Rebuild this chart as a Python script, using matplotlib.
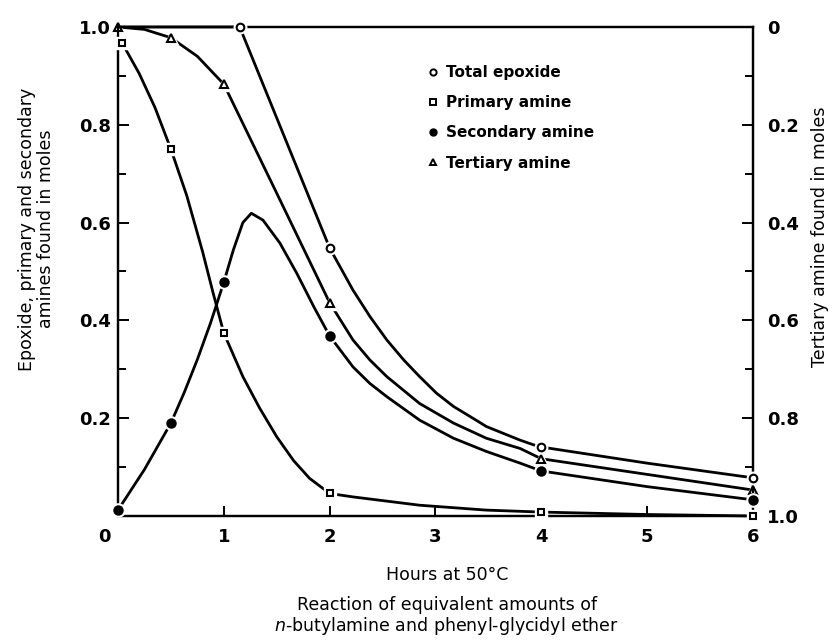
import matplotlib
matplotlib.use("Agg")
import matplotlib.pyplot as plt
import matplotlib.transforms as mtransforms
from matplotlib.lines import Line2D

# measured points (hours, moles)
epoxide_t = [1.15, 2, 4, 6]
epoxide_v = [1.0, 0.548, 0.141, 0.078]
primary_t = [0.04, 0.5, 1, 2, 4, 6]
primary_v = [0.967, 0.75, 0.374, 0.046, 0.008, 0.0]
secondary_t = [0, 0.5, 1, 2, 4, 6]
secondary_v = [0.012, 0.19, 0.478, 0.368, 0.092, 0.033]
# tertiary amine is read on the right (inverted) axis
tertiary_t = [0, 0.5, 1, 2, 4, 6]
tertiary_v = [0.0, 0.022, 0.117, 0.564, 0.883, 0.947]

# hand drawn curves
epoxide_curve_t = [0, 1.15, 2.0, 2.22, 2.38, 2.54, 2.70, 2.85, 3.01, 3.17, 3.33, 3.48, 3.64, 3.80, 3.96, 4.0, 5.0, 6.0]
epoxide_curve_v = [1.0, 1.0, 0.548, 0.462, 0.408, 0.360, 0.319, 0.285, 0.251, 0.224, 0.203, 0.183, 0.169, 0.155, 0.143, 0.141, 0.108, 0.078]
primary_curve_t = [0.04, 0.2, 0.35, 0.5, 0.65, 0.8, 0.9, 1.0, 1.18, 1.34, 1.5, 1.66, 1.81, 2.0, 2.22, 2.85, 3.48, 4.0, 5.0, 6.0]
primary_curve_v = [0.967, 0.905, 0.835, 0.75, 0.655, 0.54, 0.455, 0.374, 0.285, 0.22, 0.162, 0.113, 0.077, 0.046, 0.039, 0.022, 0.012, 0.008, 0.003, 0.0]
secondary_curve_t = [0, 0.25, 0.5, 0.625, 0.75, 0.875, 1.0, 1.09, 1.18, 1.26, 1.37, 1.53, 1.69, 1.85, 2.0, 2.22, 2.38, 2.54, 2.85, 3.17, 3.48, 3.80, 4.0, 5.0, 6.0]
secondary_curve_v = [0.012, 0.095, 0.19, 0.252, 0.32, 0.395, 0.478, 0.544, 0.6, 0.619, 0.605, 0.558, 0.496, 0.428, 0.368, 0.305, 0.271, 0.244, 0.196, 0.159, 0.132, 0.108, 0.092, 0.06, 0.033]
tertiary_curve_t = [0, 0.25, 0.5, 0.75, 1.0, 1.5, 2.0, 2.22, 2.38, 2.54, 2.85, 3.17, 3.48, 3.80, 4.0, 5.0, 6.0]
tertiary_curve_v = [0.0, 0.005, 0.022, 0.06, 0.117, 0.34, 0.564, 0.640, 0.681, 0.715, 0.770, 0.810, 0.841, 0.862, 0.883, 0.915, 0.947]

x_ticks = [0, 1, 2, 3, 4, 5, 6]
left_ticks = [0.2, 0.4, 0.6, 0.8, 1.0]
right_ticks = [0, 0.2, 0.4, 0.6, 0.8, 1.0]
minor_ticks = [0.1, 0.3, 0.5, 0.7, 0.9]

plt.rcParams["font.family"] = ["DejaVu Sans"]

fig = plt.figure(figsize=(8.35, 6.42), dpi=100)
ax = fig.add_axes([0.1413, 0.1963, 0.7605, 0.7617])
ax2 = ax.twinx()
# keep the left-axis markers on top of the tertiary ones
ax.set_zorder(ax2.get_zorder() + 1)
ax.patch.set_visible(False)

lw = 2.0


def draw(axis, ct, cv, t, v, marker, face, ms):
    axis.plot(ct, cv, color="black", lw=lw, zorder=2, clip_on=False, solid_capstyle="round")
    axis.plot(t, v, ls="none", marker=marker, ms=ms + 3.5, mfc="white", mec="white", zorder=3, clip_on=False)
    axis.plot(t, v, ls="none", marker=marker, ms=ms, mfc=face, mec="black", mew=1.5, zorder=4, clip_on=False)


draw(ax, epoxide_curve_t, epoxide_curve_v, epoxide_t, epoxide_v, "o", "white", 5.5)
draw(ax, primary_curve_t, primary_curve_v, primary_t, primary_v, "s", "white", 5)
draw(ax, secondary_curve_t, secondary_curve_v, secondary_t, secondary_v, "o", "black", 6)
draw(ax2, tertiary_curve_t, tertiary_curve_v, tertiary_t, tertiary_v, "^", "white", 6)

ax.set_xlim(0, 6)
ax.set_ylim(0, 1.0)
ax2.set_ylim(1.0, 0)

for a in (ax, ax2):
    for s in a.spines.values():
        s.set_linewidth(1.6)

ax.set_xticks(x_ticks)
ax.set_xticklabels([str(t) for t in x_ticks])
ax.set_yticks(left_ticks)
ax.set_yticklabels(["%.1f" % t for t in left_ticks])
ax.set_yticks(minor_ticks, minor=True)
ax2.set_yticks(right_ticks)
ax2.set_yticklabels(["0"] + ["%.1f" % t for t in right_ticks[1:]])
ax2.set_yticks([1 - m for m in minor_ticks], minor=True)

ax.tick_params(axis="x", direction="in", length=7, width=1.4, pad=9, labelsize=13, top=False)
ax.tick_params(axis="y", which="major", direction="in", length=8, width=1.4, pad=5, labelsize=13)
ax.tick_params(axis="y", which="minor", direction="in", length=6, width=1.4)
ax2.tick_params(axis="y", which="major", direction="in", length=8, width=1.4, pad=10, labelsize=13)
ax2.tick_params(axis="y", which="minor", direction="in", length=6, width=1.4)
for lab in ax.get_xticklabels() + ax.get_yticklabels() + ax2.get_yticklabels():
    lab.set_fontweight("bold")

# the origin "0" sits a little to the left of the corner
zero = ax.get_xticklabels()[0]
zero.set_transform(zero.get_transform() + mtransforms.ScaledTranslation(-14 / 100, 0, fig.dpi_scale_trans))

fig.text(0.044, 0.643, "Epoxide, primary and secondary\namines found in moles", rotation=90,
         ha="center", va="center", multialignment="center", fontsize=12.5, linespacing=1.1)
fig.text(0.982, 0.632, "Tertiary amine found in moles", rotation=90, ha="center", va="center", fontsize=12.5)
fig.text(0.535, 0.104, "Hours at 50\u00b0C", ha="center", va="center", fontsize=12.5)
fig.text(0.535, 0.0576, "Reaction of equivalent amounts of", ha="center", va="center", fontsize=12.5)
fig.text(0.535, 0.025, "$\\mathit{n}$-butylamine and phenyl-glycidyl ether", ha="center", va="center", fontsize=12.5)

handles = [
    Line2D([], [], ls="none", marker="o", ms=4.5, mfc="white", mec="black", mew=1.4),
    Line2D([], [], ls="none", marker="s", ms=4, mfc="white", mec="black", mew=1.4),
    Line2D([], [], ls="none", marker="o", ms=5, mfc="black", mec="black"),
    Line2D([], [], ls="none", marker="^", ms=4.5, mfc="white", mec="black", mew=1.4),
]
names = ["Total epoxide", "Primary amine", "Secondary amine", "Tertiary amine"]
leg = ax.legend(handles, names, loc="upper left", bbox_to_anchor=(0.474, 0.938), frameon=False,
                borderpad=0, handlelength=0.8, handletextpad=0.45, labelspacing=1.0,
                prop={"size": 11, "weight": "bold"})

fig.savefig("out.png", dpi=100)
